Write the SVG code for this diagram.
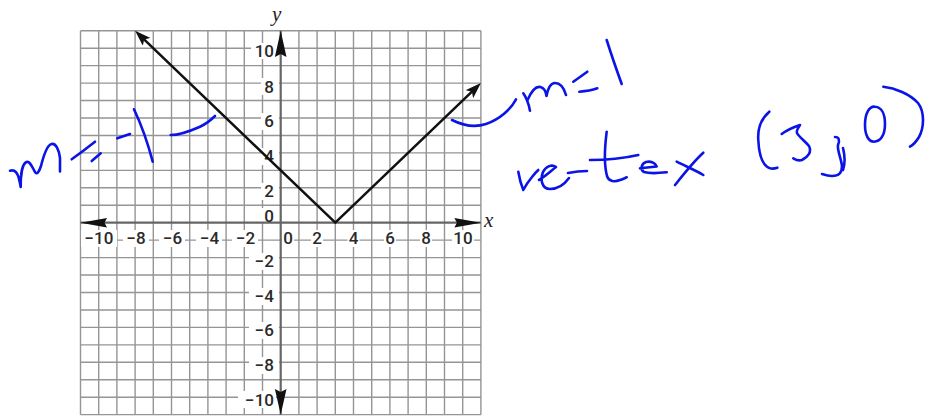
<svg xmlns="http://www.w3.org/2000/svg" width="927" height="417" viewBox="0 0 927 417">
<style>
.grid{stroke:#959595;stroke-width:1.4;fill:none}
.axis{stroke:#666;stroke-width:2.2;fill:none}
.head{fill:#111}
.bg{fill:#fff}
.tick{font-family:Roboto,"Liberation Sans",sans-serif;font-weight:500;font-size:17px;fill:#2a2a2a}
.tx{text-anchor:middle}
.ty{text-anchor:end}
.var{font-family:"Liberation Serif",serif;font-style:italic;font-size:21px;fill:#222}
.fn{stroke:#111;stroke-width:2.5;fill:none;stroke-linejoin:round}
.ink{stroke:#0b14e6;stroke-width:2.6;fill:none;stroke-linecap:round;stroke-linejoin:round}
</style>
<defs>
<marker id="arr" viewBox="0 0 16 11" refX="9" refY="5.5" markerWidth="16" markerHeight="11" markerUnits="userSpaceOnUse" orient="auto-start-reverse">
<path d="M0,0 L16,5.5 L0,11 L3.5,5.5 z" fill="#111"/>
</marker>
</defs>
<rect width="927" height="417" fill="#fff"/>
<g id="grid">
<path class="grid" d="M80.5,30.75V414.65M98.7,30.75V414.65M116.9,30.75V414.65M135.1,30.75V414.65M153.3,30.75V414.65M171.5,30.75V414.65M189.7,30.75V414.65M207.9,30.75V414.65M226.1,30.75V414.65M244.3,30.75V414.65M262.5,30.75V414.65M298.9,30.75V414.65M317.1,30.75V414.65M335.3,30.75V414.65M353.5,30.75V414.65M371.7,30.75V414.65M389.9,30.75V414.65M408.1,30.75V414.65M426.3,30.75V414.65M444.5,30.75V414.65M462.7,30.75V414.65M480.9,30.75V414.65
M80.5,30.75H480.9M80.5,48.2H480.9M80.5,65.65H480.9M80.5,83.1H480.9M80.5,100.55H480.9M80.5,118H480.9M80.5,135.45H480.9M80.5,152.9H480.9M80.5,170.35H480.9M80.5,187.8H480.9M80.5,205.25H480.9M80.5,240.15H480.9M80.5,257.6H480.9M80.5,275.05H480.9M80.5,292.5H480.9M80.5,309.95H480.9M80.5,327.4H480.9M80.5,344.85H480.9M80.5,362.3H480.9M80.5,379.75H480.9M80.5,397.2H480.9M80.5,414.65H480.9"/>
</g>
<g id="label-backgrounds" class="bg">
<rect x="81" y="230" width="36" height="17"/>
<rect x="123" y="230" width="26" height="17"/>
<rect x="159" y="230" width="26" height="17"/>
<rect x="196" y="230" width="26" height="17"/>
<rect x="232" y="230" width="26" height="17"/>
<rect x="282" y="230" width="12" height="17"/>
<rect x="311" y="230" width="12" height="17"/>
<rect x="347.5" y="230" width="12" height="17"/>
<rect x="384" y="230" width="12" height="17"/>
<rect x="420" y="230" width="12" height="17"/>
<rect x="452" y="230" width="22" height="17"/>
<rect x="251" y="43" width="28" height="16"/>
<rect x="261" y="78" width="18" height="17"/>
<rect x="261" y="113" width="18" height="17"/>
<rect x="261" y="148" width="18" height="17"/>
<rect x="261" y="183" width="18" height="17"/>
<rect x="261" y="208" width="18" height="14"/>
<rect x="249" y="253" width="30" height="17"/>
<rect x="249" y="288" width="30" height="17"/>
<rect x="249" y="322" width="30" height="17"/>
<rect x="249" y="357" width="30" height="17"/>
<rect x="238" y="391" width="38" height="17"/>
</g>
<g id="axes">
<path class="axis" d="M80.5,222.7H480.9M280.7,30.75V414.65"/>
<polygon class="head" points="80.5,222.7 107,217.9 104.5,222.7 107,227.5"/>
<polygon class="head" points="480.9,222.7 454.4,217.9 456.9,222.7 454.4,227.5"/>
<polygon class="head" points="280.7,30.75 274.9,57 280.7,54 286.5,57"/>
<polygon class="head" points="280.7,414.65 274.9,389 280.7,392 286.5,389"/>
<text class="var" x="272" y="20.5">y</text>
<text class="var" x="484" y="226.5">x</text>
</g>
<g id="x-ticks" class="tick tx">
<text x="99" y="244">−10</text>
<text x="136" y="244">−8</text>
<text x="172.5" y="244">−6</text>
<text x="209.5" y="244">−4</text>
<text x="245.5" y="244">−2</text>
<text x="288" y="244">0</text>
<text x="317" y="244">2</text>
<text x="353.5" y="244">4</text>
<text x="390" y="244">6</text>
<text x="426" y="244">8</text>
<text x="463" y="244">10</text>
</g>
<g id="y-ticks" class="tick ty">
<text x="274" y="57">10</text>
<text x="274" y="92.5">8</text>
<text x="274" y="127">6</text>
<text x="274" y="162">4</text>
<text x="274" y="197">2</text>
<text x="274" y="222">0</text>
<text x="274" y="266.5">−2</text>
<text x="274" y="301.5">−4</text>
<text x="274" y="336">−6</text>
<text x="274" y="371">−8</text>
<text x="274" y="405.5">−10</text>
</g>
<g id="connectors">
<path id="abs-graph" class="fn" d="M140.15,35.6 L335.3,222.7 L475.85,87.95" marker-start="url(#arr)" marker-end="url(#arr)"/>
</g>
<g id="note-left" class="ink">
<path d="M10,170.7 C14,169.5 17,172 18.5,177 C19.5,181 20.3,184.5 20.7,187 C20.5,176 22,164 26.5,162 C30,160.5 32,167 35,172 C37,175 39,172 41,166 C43,158 47,145 51.5,144 C56,143 59,150 60,158 L60,171.5"/>
<path d="M71.7,159.3 C79,154 87,148 95,141.7"/>
<path d="M91.7,161 L100.7,153.3"/>
<path d="M117.3,138.3 L130,134"/>
<path d="M134,109.3 C140,122 147,140 152.7,161.7"/>
<path d="M170.7,135 C180,135 188,132 200,126.7 C206,124 211,120 215,116"/>
</g>
<g id="note-right" class="ink">
<path d="M452,120 C462,125 474,128 486,124 C500,119 511,109 516,99.3"/>
<path d="M523.3,93.3 Q528,100 530,110.7"/>
<path d="M527.5,100 C531,92 536,86 540.5,87 C544,88 546,92 546.5,96 C548,88 551,83 555,83 C560,83 564,88 566,95"/>
<path d="M573.3,81.7 L587.3,71.7"/>
<path d="M579.3,91.7 Q590,91 597.3,88.3"/>
<path d="M606.7,40 Q613,60 621.7,84"/>
</g>
<g id="note-vertex" class="ink">
<path d="M518.3,171.7 Q520,182 523.3,190 Q527,183 532,177 Q535,173 538.3,170"/>
<path d="M539,180 C546,176 552,170 556,167 C552,164 546,166 543,172 C540,180 542,189 550,189 C557,189 564,185 569,178"/>
<path d="M568,173 C573,172 579,171 587,171"/>
<path d="M606.7,131.7 C605,145 604,165 607,176 C609,182 615,182 620,180 C623,179 625,178 626.7,177.3"/>
<path d="M590,160 C605,160 625,158 638.3,155"/>
<path d="M640,168.3 L656.7,166.5 C655,162 650,161 646,162 C641,164 640,170 644,172 C650,174 660,173 666.7,172.3"/>
<path d="M676.7,161.7 C685,166 695,170 703.3,175"/>
<path d="M703.3,152.7 C693,162 683,175 675,185"/>
<path d="M769.3,111.7 C762,118 757.5,128 758.3,140 C759,155 763,166 770,168.3 C773,169 775,168.5 777.3,167.7"/>
<path d="M781.7,134 C787,130 794,127 800,125 C798,128 796,131 797,133 C799,137 805,141 809,146 C812,152 808,157 802,160 C799,161 796,160 793.3,158.3"/>
<path d="M835,137 C839,137 840,140 838,145 C837,150 841,158 842,166 C842,173 839,176 832,176 C828,176 825,175 822,174"/>
<path d="M843,148 C845,156 845,164 843,170"/>
<path d="M875,106.7 C869,106 865,114 865,125 C865,136 869,141.7 874,141.7 C880,141.7 885,136 885,124 C885,113 881,107 875,106.7"/>
<path d="M883.3,86.7 C895,88 910,94 918,103 C925,112 924,128 919,137 C916,142 913,145 910,146.7"/>
</g>
</svg>
